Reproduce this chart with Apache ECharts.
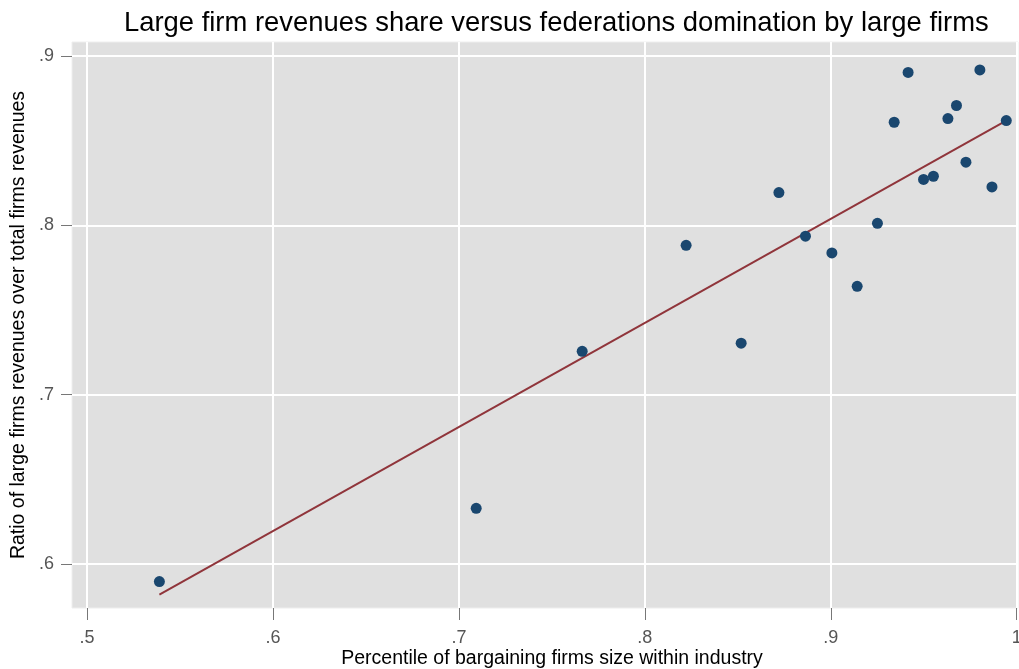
<!DOCTYPE html>
<html>
<head>
<meta charset="utf-8">
<script src="https://cdn.jsdelivr.net/npm/echarts@6/dist/echarts.min.js"></script>
<style>
  html, body { margin: 0; padding: 0; background: #fff; }
  #main { width: 1019px; height: 669px; }
</style>
</head>
<body>
<div id="main"></div>
<script>
// firm size percentile (x) and large-firm revenue ratio (y)
var firmSize = [0.5389, 0.7093, 0.7663, 0.8222, 0.8518, 0.8721, 0.8864, 0.9006, 0.9142, 0.9251,
                0.9341, 0.9416, 0.9499, 0.9552, 0.9630, 0.9676, 0.9727, 0.9802, 0.9867, 0.9944];
var revRatio = [0.5896, 0.6329, 0.7256, 0.7882, 0.7304, 0.8194, 0.7936, 0.7837, 0.7640, 0.8012,
                0.8609, 0.8903, 0.8271, 0.8290, 0.8631, 0.8708, 0.8373, 0.8918, 0.8227, 0.8619];
// fitted line end points
var fitX = [0.5389, 0.9944];
var fitY = [0.5819, 0.8619];
var xTicks = [0.5, 0.6, 0.7, 0.8, 0.9, 1.0];
var yTicks = [0.6, 0.7, 0.8, 0.9];

var dom = document.getElementById('main');
var myChart = echarts.init(dom);

var points = firmSize.map(function (x, i) { return [x, revRatio[i]]; });
var fitLine = fitX.map(function (x, i) { return [x, fitY[i]]; });

function fmt(v) {
    var s = (Math.round(v * 10) / 10).toString();
    return s.replace(/^0\./, '.');
}

var option = {
    animation: false,
    backgroundColor: '#ffffff',
    textStyle: { fontFamily: 'Liberation Sans' },
    title: {
        text: 'Large firm revenues share versus federations domination by large firms',
        left: 119,
        top: 5,
        textStyle: { fontSize: 27.4, fontWeight: 'normal', color: '#000', fontFamily: 'Liberation Sans' }
    },
    grid: {
        left: 72, right: 1, top: 42, bottom: 61,
        outerBoundsMode: 'none',
        containLabel: false,
        show: true,
        backgroundColor: '#e0e0e0',
        borderColor: '#eeeeee',
        borderWidth: 1
    },
    xAxis: {
        type: 'value',
        min: 0.4919,
        max: 1.0007,
        name: 'Percentile of bargaining firms size within industry',
        nameLocation: 'middle',
        nameMoveOverlap: false,
        nameGap: 41,
        nameTextStyle: { fontSize: 19.5, color: '#000', padding: [0, 0, 0, 14] },
        axisLine: { show: false },
        axisTick: { show: true, customValues: xTicks, length: 12, lineStyle: { color: '#777', width: 1 } },
        axisLabel: { customValues: xTicks, formatter: fmt, fontSize: 18, color: '#555', margin: 21 },
        splitLine: { show: true, lineStyle: { color: '#ffffff', width: 2 } }
    },
    yAxis: {
        type: 'value',
        min: 0.574,
        max: 0.9083,
        name: 'Ratio of large firms revenues over total firms revenues',
        nameLocation: 'middle',
        nameMoveOverlap: false,
        nameGap: 43,
        nameTextStyle: { fontSize: 19.5, color: '#000' },
        axisLine: { show: false },
        axisTick: { show: true, customValues: yTicks, length: 11, lineStyle: { color: '#777', width: 1 } },
        axisLabel: { customValues: yTicks, formatter: fmt, fontSize: 18, color: '#555', margin: 18 },
        splitLine: { show: true, lineStyle: { color: '#ffffff', width: 2 } }
    },
    series: [
        {
            type: 'scatter',
            data: points,
            symbol: 'circle',
            symbolSize: 11,
            itemStyle: { color: '#1a476f', opacity: 1 },
            z: 3
        },
        {
            type: 'line',
            data: fitLine,
            symbol: 'none',
            lineStyle: { color: '#90353b', width: 2 },
            z: 2
        }
    ]
};

if (option && typeof option === 'object') {
    myChart.setOption(option, true);
}
</script>
</body>
</html>
